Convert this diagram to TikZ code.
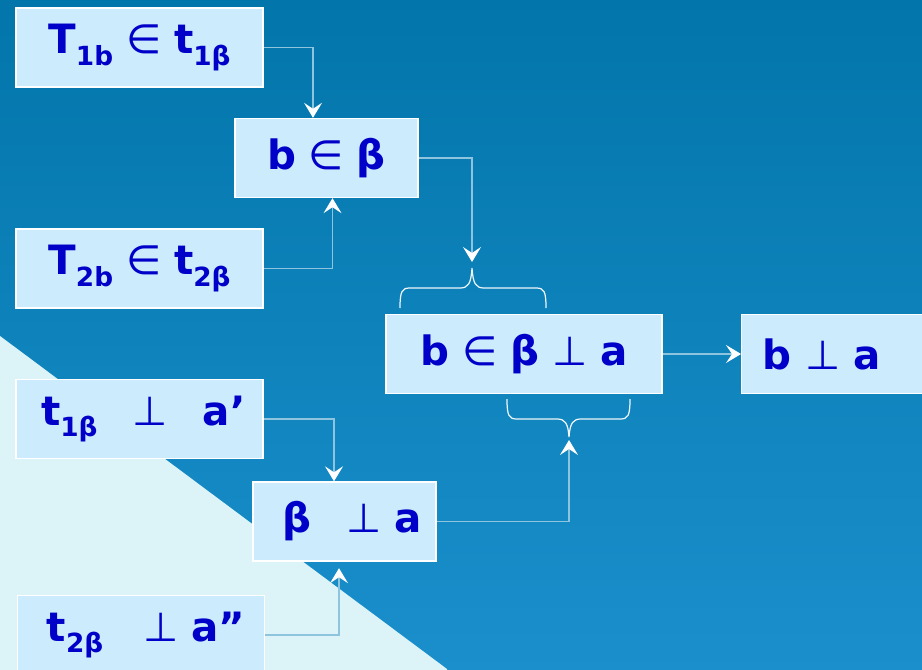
\documentclass[tikz,border=0pt]{standalone}
\usepackage{fontspec}
\setmainfont{DejaVu Sans}
\usetikzlibrary{arrows.meta}

\definecolor{bgtop}{HTML}{0276AA}
\definecolor{bgbot}{HTML}{1A8FCC}
\definecolor{wedge}{HTML}{DCF4F8}
\definecolor{boxfill}{HTML}{CCEBFC}
\definecolor{ink}{HTML}{0000C8}
\definecolor{wire}{HTML}{8EC4DE}

\newcommand{\lowsub}[1]{\raisebox{-0.5ex}{\fontsize{15}{15}\selectfont\bfseries #1}}

\begin{document}
\begin{tikzpicture}[
    x=0.02cm, y=-0.02cm,
    box/.style={draw=white, line width=0.8pt, fill=boxfill, text=ink, minimum height=1.58cm, inner sep=0pt, font=\fontsize{23}{27}\selectfont},
    wide/.style={box, minimum width=4.94cm},
    small/.style={box, minimum width=3.66cm},
    link/.style={draw=wire, line width=0.6pt, -{Stealth[length=0.3cm, width=0.36cm, inset=0.12cm, color=white]}},
    curly/.style={draw=white!85!wire, line width=0.7pt}
]
% background and light wedge
\useasboundingbox (0,0) rectangle (922,669);
\fill[top color=bgtop, bottom color=bgbot] (-5,-5) rectangle (930,675);
\fill[wedge] (0,336) -- (447,669) -- (447,675) -- (-5,675) -- (-5,336) -- cycle;

\node[wide] (t1b) at (139.5,47.5) {\textbf{T\lowsub{1b}} ∈ \textbf{t\lowsub{1β}}};
\node[small] (bb) at (326.5,158) {\textbf{b} ∈ \textbf{β}};
\node[wide] (t2b) at (139.5,268.5) {\textbf{T\lowsub{2b}} ∈ \textbf{t\lowsub{2β}}};
\node[box, minimum width=5.52cm] (bba) at (524,354) {\textbf{b} ∈ \textbf{β} ⊥ \textbf{a}};
\node[box, anchor=west, text width=3.28cm, inner xsep=0.42cm, align=left] (ba) at (741,354) {\textbf{b} ⊥ \textbf{a}};
\node[wide] (t1a) at (139.5,419) {\hspace{0.15cm}\textbf{t\lowsub{1β}}\hspace{0.7cm}⊥\hspace{0.7cm}\textbf{a’}};
\node[small] (pa) at (344.5,521.5) {\hspace{0.3cm}\textbf{β}\hspace{0.7cm}⊥ \textbf{a}};
\node[wide] (t2a) at (141,635) {\hspace{0.2cm}\textbf{t\lowsub{2β}}\hspace{0.8cm}⊥ \textbf{a”}};

% braces
\coordinate (ctop) at (472,262);
\coordinate (cbot) at (569,440);
\draw[curly] (400,308) .. controls (400,291) and (402,288) .. (410,288) -- (460,288)
  .. controls (468,288) and (471,284) .. (472,268) .. controls (473,284) and (476,288) .. (484,288)
  -- (536,288) .. controls (544,288) and (546,291) .. (546,308);
\draw[curly] (507,399) .. controls (507,416) and (509,419) .. (517,419) -- (557,419)
  .. controls (565,419) and (568,423) .. (569,437) .. controls (570,423) and (573,419) .. (581,419)
  -- (620,419) .. controls (628,419) and (630,416) .. (630,399);

\draw[link] (t1b.east) -| ([xshift=-0.27cm]bb.north);
\draw[link] (t2b.east) -| ([xshift=0.12cm]bb.south);
\draw[link] (bb.east) -| (ctop);
\draw[link] (bba.east) -- (ba.west);
\draw[link] (t1a.east) -| ([xshift=-0.21cm]pa.north);
\draw[link] (t2a.east) -| ([xshift=-0.11cm, yshift=-0.13cm]pa.south);
\draw[link] (pa.east) -| (cbot);
\end{tikzpicture}
\end{document}
